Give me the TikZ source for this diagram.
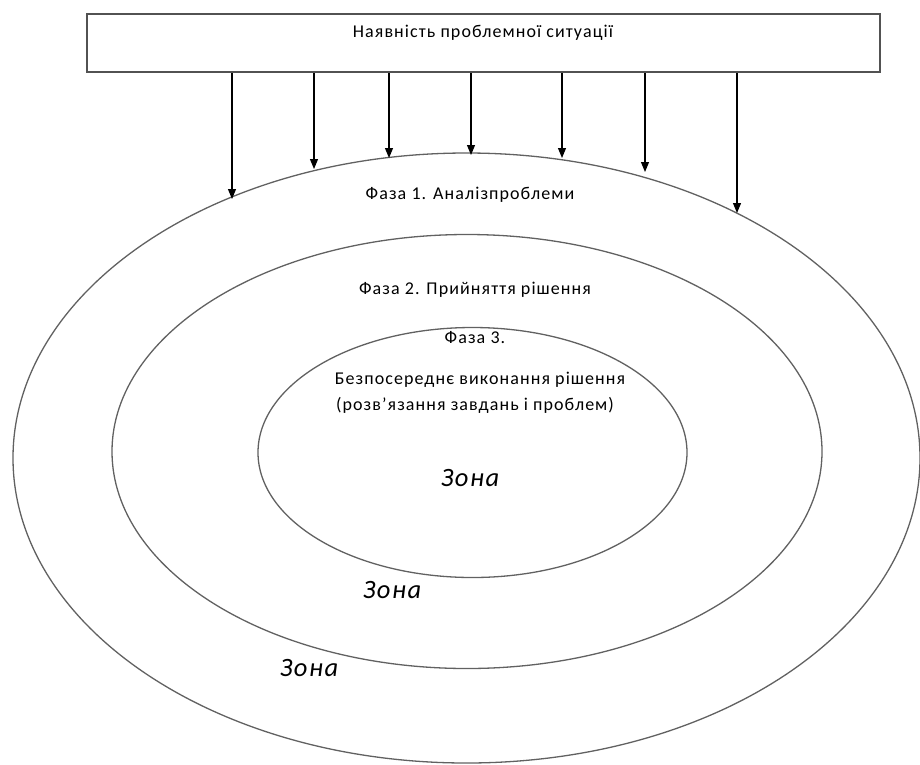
\documentclass[tikz,border=0pt]{standalone}
\usepackage{fontspec}
\setmainfont{Carlito}[LetterSpace=6]
\usetikzlibrary{arrows.meta,shapes.geometric}
\begin{document}
\begin{tikzpicture}[x=1pt,y=-1pt,
  topbox/.style={draw=black!68, line width=2.2pt, rectangle, minimum width=793pt, minimum height=58pt, inner sep=0pt},
  ring/.style={draw=black!62, line width=1.3pt, ellipse, inner sep=0pt},
  lbl/.style={inner sep=0pt, font=\fontsize{18}{20}\selectfont},
  zona/.style={inner sep=0pt, font=\itshape\fontsize{26.5}{28}\selectfont},
  arr/.style={draw=black, line width=1.1pt, -{Triangle[length=10pt,width=8pt]}}]
\useasboundingbox (0,0) rectangle (920,764);
\node[topbox] (box) at (483.5,43) {};
\node[lbl] (t0) at (483,33) {Наявність проблемної ситуації};
\node[ring, minimum width=907pt, minimum height=610pt] (outer) at (466.5,458) {};
\node[ring, minimum width=710pt, minimum height=434pt] (middle) at (467,451.5) {};
\node[ring, minimum width=429pt, minimum height=250pt] (inner) at (472.5,452.5) {};
\coordinate (a1) at (232,199);
\coordinate (a2) at (314,169);
\coordinate (a3) at (389,158);
\coordinate (a4) at (471,155);
\coordinate (a5) at (562,158);
\coordinate (a6) at (645,172);
\coordinate (a7) at (737,213);
\foreach \i in {1,...,7} {\draw[arr] (box.south -| a\i) -- (a\i);}
\node[lbl] (f1) at (470,195) {Фаза 1. Аналізпроблеми};
\node[lbl] (f2) at (475,290) {Фаза 2. Прийняття рішення};
\node[lbl] (f3) at (475,338) {Фаза 3.};
\node[lbl] (f3a) at (480,380) {Безпосереднє виконання рішення};
\node[lbl] (f3b) at (475,405) {(розв’язання завдань і проблем)};
\node[zona] (z1) at (470,478) {Зона};
\node[zona] (z2) at (392,590) {Зона};
\node[zona] (z3) at (309,668) {Зона};
\end{tikzpicture}
\end{document}
